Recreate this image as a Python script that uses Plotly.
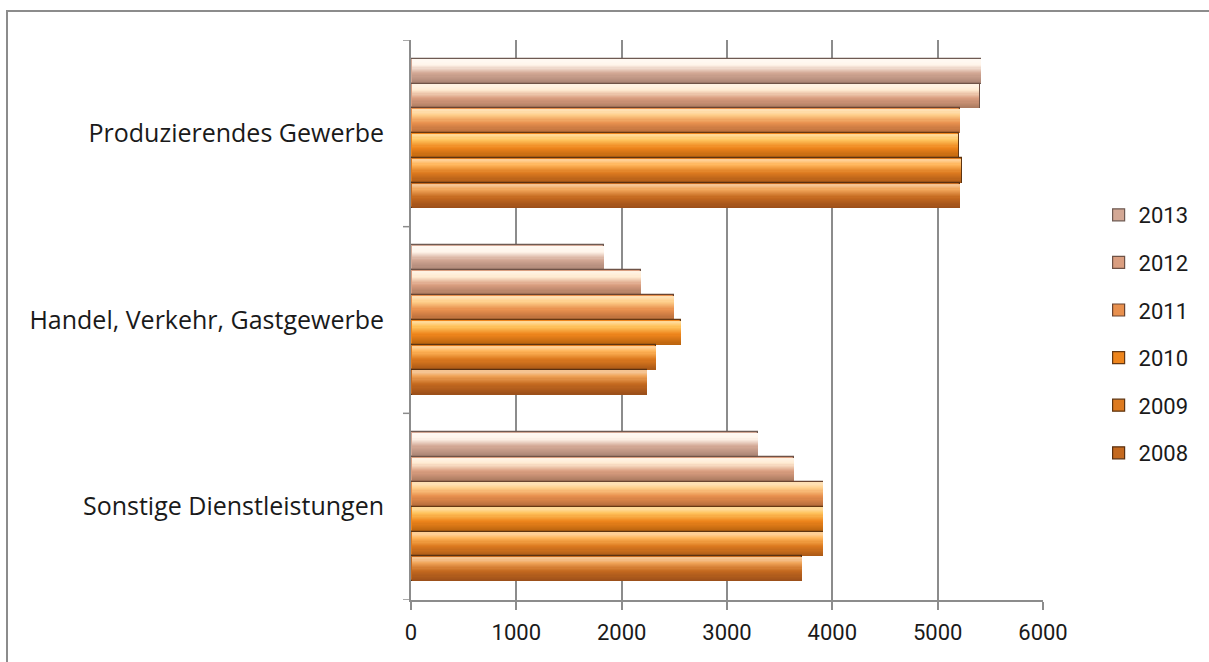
import plotly.graph_objects as go

# Employment by sector, 2008-2013
categories = ["Sonstige Dienstleistungen", "Handel, Verkehr, Gastgewerbe", "Produzierendes Gewerbe"]
years = ["2008", "2009", "2010", "2011", "2012", "2013"]
values = {
    "2008": [3710, 2240, 5215],
    "2009": [3913, 2325, 5228],
    "2010": [3913, 2567, 5199],
    "2011": [3913, 2497, 5215],
    "2012": [3637, 2183, 5399],
    "2013": [3295, 1831, 5409],
}
x_ticks = [0, 1000, 2000, 3000, 4000, 5000, 6000]

# per-year shading: (dark bottom, base, light top, outline)
palette = {
    "2008": ("#9A4E1A", "#C4691F", "#F0A458", "#5A3010"),
    "2009": ("#A95817", "#DD7A1F", "#FFB55A", "#5E3410"),
    "2010": ("#B8620E", "#EE851C", "#FFC45E", "#663812"),
    "2011": ("#B46A3A", "#E8904E", "#FFCF8A", "#6A4430"),
    "2012": ("#A8785E", "#DA9E80", "#FFEBD2", "#6E5246"),
    "2013": ("#A88272", "#D3A895", "#FFF4EA", "#6E5A52"),
}

W, H = 1209, 662
L, R, T, B = 411, 166, 40, 62

n = len(years)
group = 0.8
slot = group / n

fig = go.Figure()


def mix(c1, c2, t):
    a = [int(c1[i:i + 2], 16) for i in (1, 3, 5)]
    b = [int(c2[i:i + 2], 16) for i in (1, 3, 5)]
    return "#%02x%02x%02x" % tuple(round(a[k] + (b[k] - a[k]) * t) for k in range(3))


stripes = 20
# newest year first so the legend lists 2013 at the top
for i in range(n - 1, -1, -1):
    yr = years[i]
    dark, base, light, edge = palette[yr]
    centre = [c + (i - (n - 1) / 2) * slot for c in range(len(categories))]
    # outlined base bar (legend entry)
    fig.add_trace(go.Bar(
        y=centre, x=values[yr], orientation="h", width=slot,
        marker=dict(color=base, line=dict(color=edge, width=1.2)),
        name=yr, legendgroup=yr, showlegend=True, hoverinfo="x+name",
    ))
    # vertical shading built from thin overlaid strips
    h = slot * 0.92 / stripes
    for s in range(stripes):
        f = (s + 0.5) / stripes  # 0 bottom, 1 top
        if f < 0.45:
            col = mix(dark, base, f / 0.45)
        elif f < 0.8:
            col = mix(base, light, (f - 0.45) / 0.35)
        else:
            col = mix(light, "#FFFFFF", min(1.0, (f - 0.8) / 0.2) * 0.4)
        yc = [c - slot * 0.46 + (s + 0.5) * h for c in centre]
        fig.add_trace(go.Bar(
            y=yc, x=[v - 14 for v in values[yr]], base=[12] * len(categories),
            orientation="h", width=h * 1.6,
            marker=dict(color=col, line=dict(width=0)),
            legendgroup=yr, showlegend=False, hoverinfo="skip",
        ))

# outer frame of the chart area
fig.add_shape(type="rect", xref="paper", yref="paper",
              x0=(7 - L) / (W - L - R), x1=(1215 - L) / (W - L - R),
              y0=(H - B - 670) / (H - T - B), y1=(H - B - 11) / (H - T - B),
              line=dict(color="#8C8C8C", width=2), fillcolor="rgba(0,0,0,0)", layer="below")

fig.update_layout(
    width=W, height=H,
    margin=dict(l=L, r=R, t=T, b=B),
    barmode="overlay",
    paper_bgcolor="white", plot_bgcolor="white",
    font=dict(family="Roboto, Open Sans, sans-serif", size=22, color="#1A1A1A"),
    showlegend=True,
    legend=dict(x=1.088, y=0.725, xanchor="left", yanchor="top",
                traceorder="grouped", tracegroupgap=16,
                font=dict(size=22), itemwidth=30, bgcolor="rgba(0,0,0,0)"),
    xaxis=dict(range=[0, 6000], tickvals=x_ticks, ticktext=[str(v) for v in x_ticks],
               showgrid=True, gridcolor="#8C8C8C", gridwidth=1.5,
               showline=True, linecolor="#8C8C8C", linewidth=2,
               ticks="outside", tickcolor="#8C8C8C", ticklen=8, tickwidth=1.5,
               zeroline=False, ticklabelstandoff=4, tickfont=dict(size=22)),
    yaxis=dict(range=[-0.5, 2.5], tickvals=[0, 1, 2], ticktext=categories,
               showgrid=False, showline=True, linecolor="#8C8C8C", linewidth=2,
               ticks="", zeroline=False, ticklabelstandoff=20,
               tickfont=dict(family="Open Sans, Roboto, sans-serif", size=25)),
    bargap=0,
)

# category separator ticks on the value axis
for k in range(len(categories) + 1):
    fig.add_shape(type="line", xref="paper", yref="y", x0=-8 / (W - L - R), x1=0,
                  y0=k - 0.5, y1=k - 0.5, line=dict(color="#8C8C8C", width=1.5))

fig.write_html("out.html")
